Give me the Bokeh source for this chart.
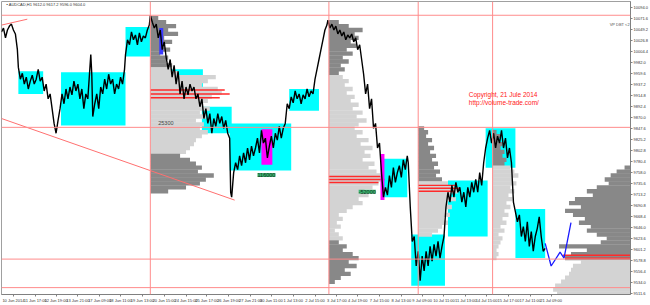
from bokeh.plotting import figure
from bokeh.models import Range1d, FixedTicker, Span, Label, PrintfTickFormatter
from bokeh.embed import file_html
from bokeh.resources import INLINE

# ---------------- data ----------------
bar_x = [0,2,4,6,8,10,12,14,16,17,
         19,21,23,25,27,29,31,33,35,37,
         39,41,43,45,47,49,51,53,55,57,
         59,61,63,65,67,69,71,73,75,77,
         79,81,83,85,87,89,90,91,92,94,
         96,98,100,102,104,106,108,110,112,114,
         116,118,120,122,124,125,127,129,131,133,
         135,137,139,141,143,145,147,149,150,152,
         154,156,158,160,162,164,166,168,170,172,
         174,176,178,180,182,184,186,188,190,192,
         194,196,198,200,202,204,206,208,210,212,
         214,216,218,220,222,224,226,228,230,231,
         232,234,236,238,240,242,244,246,248,250,
         252,254,256,258,260,262,264,266,268,270,
         272,274,276,278,280,282,284,286,288,290,
         292,294,296,298,300,302,304,306,308,310,
         312,314,316,318,320,322,324,326,328,329,
         331,333,335,337,339,341,343,345,347,349,
         351,353,355,357,359,361,363,365,367,369,
         371,373,375,377,379,381,383,385,387,389,
         391,393,395,397,399,401,403,405,407,409,
         410,412,414,416,418,420,422,424,426,428,
         430,432,434,436,438,440,442,444,446,448,
         450,452,454,456,458,460,462,464,466,468,
         470,472,474,476,478,480,482,484,486,488,
         490,492,494,496,498,500,502,504,506,508,
         510,512,514,516,518,520,522,524,526,528,
         530,532,534,536,538,540,542,544,546,548]
close = [10044,10052,10032,10048,10056,10060,10048,10040,10008,9972,
         9948,9960,9938,9952,9928,9944,9956,9938,9948,9968,
         9944,9952,9924,9938,9908,9918,9888,9858,9838,9864,
         9888,9918,9898,9928,9908,9932,9916,9944,9924,9938,
         9908,9928,9888,9918,9908,9968,9998,9958,9872,9898,
         9918,9888,9932,9918,9948,9928,9958,9938,9948,9918,
         9938,9928,9952,9938,9968,9998,10028,10018,10044,10028,
         10038,10018,10042,10024,10036,10032,10048,10058,10078,10064,
         10052,10060,10032,10048,10008,10024,9992,9968,9988,9952,
         9976,9938,9964,9918,9944,9908,9932,9916,9938,9924,
         9932,9908,9918,9892,9908,9868,9888,9858,9878,9838,
         9868,9852,9878,9858,9872,9848,9864,9838,9828,9718,
         9708,9758,9778,9764,9792,9772,9798,9778,9808,9784,
         9812,9792,9808,9828,9798,9844,9818,9828,9788,9812,
         9832,9808,9838,9824,9852,9828,9848,9858,9898,9888,
         9912,9900,9924,9908,9918,9898,9916,9908,9928,9912,
         9924,9918,9948,9968,9988,10008,10028,10048,10058,10068,
         10052,10060,10048,10056,10040,10048,10036,10044,10028,10038,
         10032,10040,10024,10032,10008,10018,9988,9958,9918,9938,
         9888,9908,9848,9858,9808,9818,9758,9708,9728,9712,
         9752,9728,9768,9738,9758,9772,9748,9784,9764,9792,
         9778,9688,9618,9628,9568,9598,9538,9588,9558,9598,
         9568,9608,9578,9612,9588,9618,9584,9608,9628,9688,
         9718,9698,9732,9708,9738,9718,9728,9698,9718,9688,
         9728,9708,9738,9718,9744,9718,9758,9732,9778,9808,
         9828,9844,9818,9838,9808,9832,9818,9844,9808,9828,
         9788,9808,9778,9698,9678,9658,9672,9628,9648,9618,
         9658,9608,9638,9598,9628,9644,9668,9628,9598,9604]

# value-area boxes: start bar, end bar, high, low
va_x0 = [17, 60, 125, 152, 202, 230, 290, 385, 413, 450, 488, 518]
va_x1 = [42, 125, 150, 203, 232, 292, 320, 409, 447, 490, 518, 548]
va_hi = [9964, 9962, 10054, 9968, 9892, 9858, 9928, 9786, 9632, 9742, 9848, 9684]
va_lo = [9918, 9854, 9994, 9924, 9838, 9762, 9884, 9708, 9528, 9628, 9768, 9584]

# magenta / blue highlight boxes
mg_x0 = [262, 382]
mg_x1 = [273, 386]
mg_hi = [9846, 9796]
mg_lo = [9774, 9702]
bl_x0, bl_x1, bl_hi, bl_lo = [159], [163], [10052], [9998]

# session volume profiles: start bar, top level, row step, lengths, shade (D dark / L light)
prof_start = [150, 330, 420, 495]
prof_top = [10072, 10064, 9848, 9840]
prof_step = 8
prof_len = [
    [8,16,26,18,28,14,22,12,20,10,18,16,22,
     22,28,66,58,52,68,72,62,
     58,52,60,50,56,46,54,50,58,52,46,44,40,36,
     30,40,46,52,48,64,56,50,36,18],
    [10,20,34,26,30,22,28,18,24,14,20,12,16,10,
     14,20,16,24,18,26,22,30,24,34,28,38,30,26,34,28,40,32,44,36,
     42,34,46,40,48,52,55,50,44,36,40,30,34,24,18,
     10,14,8,12,6,10,14,
     10,18,14,24,30,20,28,16,22,12,6],
    [6,10,8,14,10,16,12,18,14,20,16,22,18,24,
     30,36,40,32,38,30,34,28,32,26,30,24,20,14],
    [4,8,6,10,8,12,10,14,12,
     18,22,26,20,24,18,22,16,20,14,18,12,16,10,14,8,12,6,10,8,6,4,6,4],
]
prof_shade = [
    "DDDDDDDDDDDDD" + "LLLLLLLL" + "LLLLLLLLLLLLLL" + "DDDDDDDDDD",
    "DDDDDDDDDDDDDD" + "LLLLLLLLLLLLLLLLLLLLLLLLLLLLLLLLLLL" + "LLLLLLL" + "DDDDDDDDDDD",
    "DDDDDDDDDDDDDD" + "LLLLLLLLLLLLLL",
    "DDDDDDDDD" + "LLLLLLLLLLLLLLLLLLLLLLLL",
]
# whole-range profile at the right edge
rp_top = 9768
rp_len = [6,14,20,26,22,34,44,38,56,62,50,66,58,46,52,40,44,34,24,30,
          72,44,60,66,
          50,58,60,62,66,70,76,78,74]
rp_shade = "DDDDDDDDDDDDDDDDDDDD" + "DDDD" + "LLLLLLLLL"

# point-of-control lines (red)
poc_start = [150, 150, 150, 330, 330, 330, 420, 420, 420]
poc_price = [9926, 9918, 9910, 9750, 9744, 9738, 9732, 9726, 9720]
poc_len = [75, 80, 70, 52, 56, 50, 38, 42, 36]
rp_poc_price = [9590, 9584]
rp_poc_len = [68, 66]

# horizontal levels, session lines
hline_price = [10078, 9850, 9582, 9524]
vline_bar = [150, 330, 420, 495]
vline_label = ["19 Jun 2014", "3 Jul 2014", "10 Jul 2014", "16 Jul 2014"]

# trend lines and forecast
tl1_x, tl1_y = [0, 235], [9868, 9702]
tl2_x, tl2_y = [0, 26], [10058, 10070]
fc_x = [548, 554, 563, 567, 574]
fc_y = [9614, 9568, 9596, 9584, 9656]

# texts
vol_labels = [("25300", 158, 9858, None), ("116000", 258, 9753, "#3cb371"), ("-52000", 360, 9719, "#3cb371")]

price_ticks = [10094.0, 10071.6, 10049.2, 10026.8, 10004.4, 9982.0, 9959.6, 9937.2, 9914.8,
               9892.4, 9870.0, 9847.6, 9825.2, 9802.8, 9780.4, 9758.0, 9735.6, 9713.2,
               9690.8, 9668.4, 9646.0, 9623.6, 9601.2, 9578.8, 9556.4, 9534.0, 9511.6]
date_labels = ["10 Jun 2014", "11 Jun 17:00", "12 Jun 19:00", "13 Jun 21:00", "17 Jun 09:00",
               "18 Jun 11:00", "19 Jun 13:00", "20 Jun 15:00", "24 Jun 15:00", "25 Jun 17:00",
               "26 Jun 19:00", "27 Jun 21:00", "30 Jun 11:00", "1 Jul 13:00", "2 Jul 15:00",
               "3 Jul 17:00", "4 Jul 19:00", "7 Jul 15:00", "8 Jul 13:00", "9 Jul 09:00",
               "10 Jul 11:00", "11 Jul 13:00", "14 Jul 15:00", "15 Jul 17:00", "17 Jul 11:00",
               "21 Jul 09:00"]

# ---------------- figure ----------------
X_END = 634
FONT = "Liberation Sans"
p = figure(width=650, height=305, output_backend="svg", toolbar_location=None,
           x_range=Range1d(0, X_END), y_range=Range1d(9510, 10106),
           y_axis_location="right", min_border_left=1, min_border_right=0,
           min_border_top=1, min_border_bottom=0)
p.xgrid.visible = False
p.ygrid.visible = False
p.outline_line_color = "#a0a0a0"
p.background_fill_color = "white"
p.border_fill_color = "white"

for ax in (p.xaxis[0], p.yaxis[0]):
    ax.major_label_text_font_size = "4px"
    ax.major_label_text_font = FONT
    ax.major_label_text_color = "#333333"
    ax.major_tick_out = 2
    ax.major_tick_in = 0
    ax.minor_tick_out = 0
    ax.minor_tick_in = 0
    ax.axis_line_color = "#808080"
    ax.major_tick_line_color = "#808080"
    ax.major_label_standoff = 1

p.yaxis.ticker = FixedTicker(ticks=price_ticks)
p.yaxis.formatter = PrintfTickFormatter(format="%.1f")
date_pos = [int(round(12 + 21.7 * i)) for i in range(len(date_labels))]
p.xaxis.ticker = FixedTicker(ticks=date_pos)
p.xaxis.major_label_overrides = {pos: lab for pos, lab in zip(date_pos, date_labels)}

# boxes
p.quad(left=va_x0, right=va_x1, top=va_hi, bottom=va_lo, fill_color="#00ffff", line_color=None)

# profiles
LIGHT, DARK = "#d3d3d3", "#888888"
ROW_H = prof_step + 0.8
for s, top, lens, shade in zip(prof_start, prof_top, prof_len, prof_shade):
    ys = [top - prof_step * i for i in range(len(lens))]
    cols = [DARK if c == "D" else LIGHT for c in shade]
    p.hbar(y=ys, left=s, right=[s + w for w in lens], height=ROW_H,
           fill_color=cols, line_color=None)
ys = [rp_top - prof_step * i for i in range(len(rp_len))]
p.hbar(y=ys, left=[X_END - w for w in rp_len], right=X_END, height=ROW_H,
       fill_color=[DARK if c == "D" else LIGHT for c in rp_shade], line_color=None)

p.hbar(y=poc_price, left=poc_start, right=[s + w for s, w in zip(poc_start, poc_len)],
       height=3, fill_color="#ff2a2a", line_color=None)
p.hbar(y=rp_poc_price, left=[X_END - w for w in rp_poc_len], right=X_END,
       height=3, fill_color="#ff2a2a", line_color=None)

p.quad(left=mg_x0, right=mg_x1, top=mg_hi, bottom=mg_lo, fill_color="#ff00ff", line_color=None)
p.quad(left=bl_x0, right=bl_x1, top=bl_hi, bottom=bl_lo, fill_color="#3a3aff", line_color=None)

# trend lines
p.line(tl1_x, tl1_y, line_color="#ff7070", line_width=1)
p.line(tl2_x, tl2_y, line_color="#ff7070", line_width=1)

# price
p.line(bar_x, close, line_color="black", line_width=1.4)

# forecast
p.line(fc_x, fc_y, line_color="#1a1aff", line_width=1.3)

for pr in hline_price:
    p.add_layout(Span(location=pr, dimension="width", line_color="#ff8c8c", line_width=1))
for xb in vline_bar:
    p.add_layout(Span(location=xb, dimension="height", line_color="#ff8c8c", line_width=1))

# texts
for txt, xx, yy, bg in vol_labels:
    p.add_layout(Label(x=xx, y=yy, text=txt, text_font=FONT, text_font_size="5.5px",
                       text_color="#444444" if bg is None else "#10301c",
                       text_baseline="middle", background_fill_color=bg))

p.add_layout(Label(x=471, y=9916, text="Copyright, 21 Jule 2014", text_font=FONT,
                   text_font_size="6.5px", text_color="#ff2020", text_baseline="middle"))
p.add_layout(Label(x=471, y=9900, text="http://volume-trade.com/", text_font=FONT,
                   text_font_size="6.5px", text_color="#ff2020", text_baseline="middle"))
p.add_layout(Label(x=613, y=10059, text="VP DBT <2", text_font=FONT,
                   text_font_size="4px", text_color="#555555", text_baseline="middle"))
p.add_layout(Label(x=5, y=10099, text="\u25aa AUDCAD,H1  9612.0 9617.2 9596.0 9604.0", text_font=FONT,
                   text_font_size="4px", text_color="#333333", text_baseline="middle"))

# price tags on the right scale
for pr in hline_price:
    p.add_layout(Label(x=X_END, y=pr, x_offset=1, text=f"{pr:.1f}", text_font=FONT,
                       text_font_size="4px", text_color="white", text_baseline="middle",
                       background_fill_color="#ff1f1f"))
p.add_layout(Label(x=X_END, y=close[-1], x_offset=1, text=f"{close[-1]:.1f}", text_font=FONT,
                   text_font_size="4px", text_color="white", text_baseline="middle",
                   background_fill_color="black"))
# session-line date tags
for xb, lab in zip(vline_bar, vline_label):
    p.add_layout(Label(x=xb, y=9510, y_offset=-5, text=lab, text_font=FONT,
                       text_font_size="4px", text_color="white", text_baseline="middle",
                       text_align="center", background_fill_color="#ff1f1f"))

open("out.html", "w").write(file_html(p, INLINE))
